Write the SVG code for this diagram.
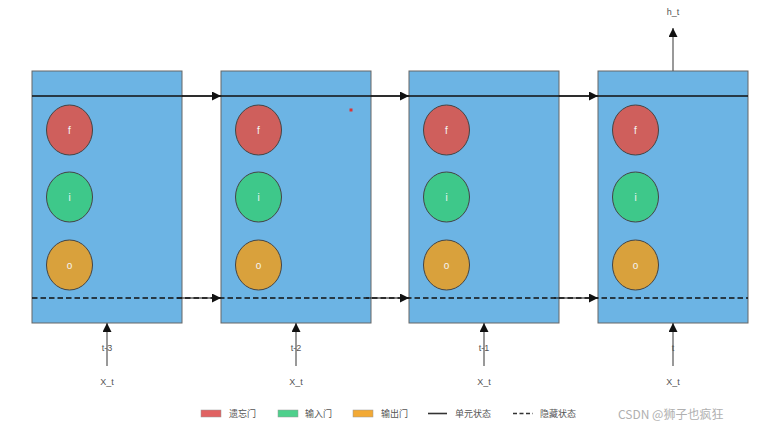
<svg xmlns="http://www.w3.org/2000/svg" width="780" height="429" viewBox="0 0 780 429">
<defs>
<marker id="ah" viewBox="0 0 10 10" refX="10" refY="5" markerWidth="9" markerHeight="9" markerUnits="userSpaceOnUse" orient="auto"><path d="M0,0 L10,5 L0,10 z" fill="#111"/></marker>
<style>
.box{fill:#6cb4e4;stroke:#666;stroke-width:1}
.f{fill:#cf5f5c;stroke:#444;stroke-width:1}
.i{fill:#3ec88a;stroke:#444;stroke-width:1}
.o{fill:#d9a13c;stroke:#444;stroke-width:1}
.gl{font-family:"Liberation Sans",Arial,sans-serif;font-size:10px;fill:#f4f4f4;text-anchor:middle}
.lb{font-family:"Liberation Sans",Arial,sans-serif;font-size:9px;fill:#555;text-anchor:middle}
.lg{font-family:"Noto Sans CJK SC","Liberation Sans",sans-serif;font-size:9px;fill:#555}
.cs{stroke:#111;stroke-width:1.6;fill:none}
.hs{stroke:#111;stroke-width:1.6;fill:none;stroke-dasharray:5.5,3}
.ar{stroke:#111;stroke-width:1;fill:none;marker-end:url(#ah)}
.in{stroke:#555;stroke-width:1.2;fill:none;marker-end:url(#ah)}
</style>
</defs>
<rect width="780" height="429" fill="#fff"/>
<g id="cell1"><rect class="box" x="32" y="71" width="150" height="252"/>
<ellipse class="f" cx="69.5" cy="130" rx="23" ry="25"/><text class="gl" x="69.5" y="133.5">f</text>
<ellipse class="i" cx="69.5" cy="197" rx="23" ry="25"/><text class="gl" x="69.5" y="200.5">i</text>
<ellipse class="o" cx="69.5" cy="265" rx="23" ry="25"/><text class="gl" x="69.5" y="268.5">o</text></g>
<g id="cell2"><rect class="box" x="221" y="71" width="150" height="252"/>
<ellipse class="f" cx="258.5" cy="130" rx="23" ry="25"/><text class="gl" x="258.5" y="133.5">f</text>
<ellipse class="i" cx="258.5" cy="197" rx="23" ry="25"/><text class="gl" x="258.5" y="200.5">i</text>
<ellipse class="o" cx="258.5" cy="265" rx="23" ry="25"/><text class="gl" x="258.5" y="268.5">o</text>
<rect x="349.5" y="108.5" width="3" height="3" fill="#d33"/></g>
<g id="cell3"><rect class="box" x="409" y="71" width="150" height="252"/>
<ellipse class="f" cx="446.5" cy="130" rx="23" ry="25"/><text class="gl" x="446.5" y="133.5">f</text>
<ellipse class="i" cx="446.5" cy="197" rx="23" ry="25"/><text class="gl" x="446.5" y="200.5">i</text>
<ellipse class="o" cx="446.5" cy="265" rx="23" ry="25"/><text class="gl" x="446.5" y="268.5">o</text></g>
<g id="cell4"><rect class="box" x="598" y="71" width="150" height="252"/>
<ellipse class="f" cx="635.5" cy="130" rx="23" ry="25"/><text class="gl" x="635.5" y="133.5">f</text>
<ellipse class="i" cx="635.5" cy="197" rx="23" ry="25"/><text class="gl" x="635.5" y="200.5">i</text>
<ellipse class="o" cx="635.5" cy="265" rx="23" ry="25"/><text class="gl" x="635.5" y="268.5">o</text></g>
<g id="connectors">
<line class="cs" x1="32" y1="96" x2="748" y2="96"/>
<line class="ar" x1="182" y1="96" x2="221" y2="96"/>
<line class="ar" x1="371" y1="96" x2="409" y2="96"/>
<line class="ar" x1="559" y1="96" x2="598" y2="96"/>
<line class="hs" x1="32" y1="298" x2="748" y2="298"/>
<line class="ar" x1="177" y1="298" x2="221" y2="298"/>
<line class="ar" x1="366" y1="298" x2="409" y2="298"/>
<line class="ar" x1="554" y1="298" x2="598" y2="298"/>
<line class="in" x1="107" y1="366" x2="107" y2="323"/>
<line class="in" x1="296" y1="366" x2="296" y2="323"/>
<line class="in" x1="484" y1="366" x2="484" y2="323"/>
<line class="in" x1="673" y1="366" x2="673" y2="323"/>
<line class="in" x1="673" y1="71" x2="673" y2="28"/>
</g>
<g id="labels">
<text class="lb" x="107" y="351">t-3</text>
<text class="lb" x="296" y="351">t-2</text>
<text class="lb" x="484" y="351">t-1</text>
<text class="lb" x="673" y="351">t</text>
<text class="lb" x="107" y="385">X_t</text>
<text class="lb" x="296" y="385">X_t</text>
<text class="lb" x="484" y="385">X_t</text>
<text class="lb" x="673" y="385">X_t</text>
<text class="lb" x="673" y="15">h_t</text>
</g>
<g id="legend">
<rect x="201" y="410" width="20" height="7" fill="#e06262" stroke="#999" stroke-width="0.5"/>
<text class="lg" x="229" y="417">遗忘门</text>
<rect x="278" y="410" width="20" height="7" fill="#4ed08c" stroke="#999" stroke-width="0.5"/>
<text class="lg" x="305" y="417">输入门</text>
<rect x="353" y="410" width="20" height="7" fill="#f2a935" stroke="#999" stroke-width="0.5"/>
<text class="lg" x="381" y="417">输出门</text>
<line x1="428" y1="413.5" x2="447" y2="413.5" stroke="#333" stroke-width="1.6"/>
<text class="lg" x="455" y="417">单元状态</text>
<line x1="513" y1="413.5" x2="533" y2="413.5" stroke="#333" stroke-width="1.6" stroke-dasharray="4,2.5"/>
<text class="lg" x="540" y="417">隐藏状态</text>
</g>
<text x="618" y="419" font-family="'Noto Sans CJK SC','Liberation Sans',sans-serif" font-size="12" fill="#b0b0b0">CSDN @狮子也疯狂</text>
</svg>
